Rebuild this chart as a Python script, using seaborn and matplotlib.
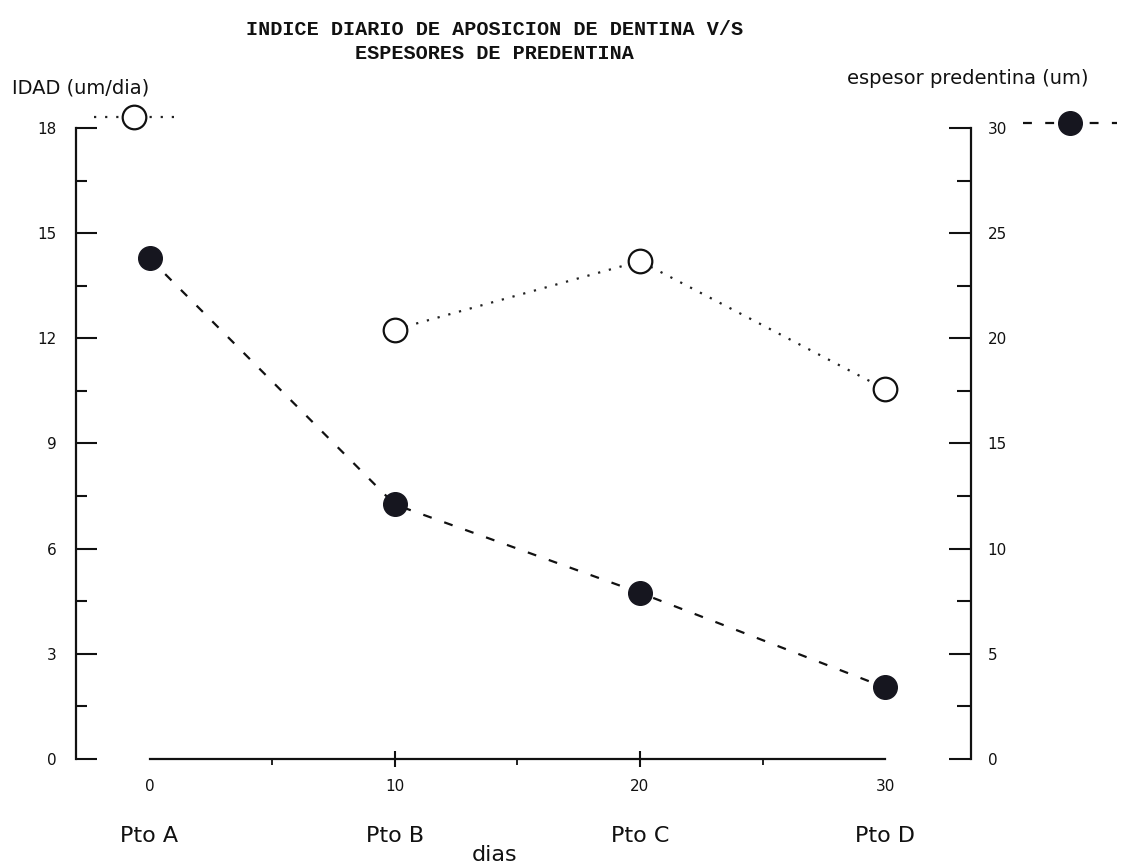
import matplotlib
matplotlib.use("Agg")
import matplotlib.pyplot as plt
from matplotlib.ticker import MultipleLocator
from matplotlib.lines import Line2D
import seaborn as sns

# ---- data ----
dias = [0, 10, 20, 30]
puntos = ["Pto A", "Pto B", "Pto C", "Pto D"]
idad_dias = [10, 20, 30]
idad = [12.25, 14.2, 10.55]
espesor_dias = [0, 10, 20, 30]
espesor = [23.8, 12.1, 7.9, 3.4]
left_ticks = [0, 3, 6, 9, 12, 15, 18]
right_ticks = [0, 5, 10, 15, 20, 25, 30]

title = "INDICE DIARIO DE APOSICION DE DENTINA V/S\nESPESORES DE PREDENTINA"
left_label = "IDAD (um/dia)"
right_label = "espesor predentina (um)"
x_label = "dias"

sns.set_theme(style="white")
plt.rcParams["font.family"] = ["DejaVu Sans"]

INK = "#111111"
DOT = "#222222"
FILL = "#16161f"

fig = plt.figure(figsize=(11.22, 8.67), dpi=100)
ax = fig.add_axes([0.0677, 0.1246, 0.7977, 0.7278])
ax2 = ax.twinx()

dotted = (0, (1, 4))
dashed = (0, (4, 6))

sns.lineplot(x=idad_dias, y=idad, ax=ax, color=DOT, linestyle=dotted, lw=1.6,
             marker="o", markersize=17, markerfacecolor="white",
             markeredgecolor=INK, markeredgewidth=1.6, clip_on=False)
sns.lineplot(x=espesor_dias, y=espesor, ax=ax2, color=INK, linestyle=dashed, lw=1.6,
             marker="o", markersize=17, markerfacecolor=FILL,
             markeredgecolor=FILL, markeredgewidth=1.0, clip_on=False)

ax.set_xlim(-3.0, 33.5)
ax.set_ylim(0, 18)
ax2.set_ylim(0, 30)
ax.set_xlabel("")
ax.set_ylabel("")
ax2.set_ylabel("")

# spines
for s in ["top", "right"]:
    ax.spines[s].set_visible(False)
for s in ["top", "left", "bottom"]:
    ax2.spines[s].set_visible(False)
ax.spines["left"].set_bounds(0, 18)
ax.spines["bottom"].set_bounds(0, 30)
ax2.spines["right"].set_bounds(0, 30)
for sp in [ax.spines["left"], ax.spines["bottom"], ax2.spines["right"]]:
    sp.set_linewidth(1.6)
    sp.set_color(INK)

# x ticks
ax.set_xticks(dias)
ax.set_xticklabels([str(d) for d in dias])
ax.xaxis.set_minor_locator(MultipleLocator(5))
ax.tick_params(axis="x", which="major", bottom=True, direction="inout", length=11,
               width=1.5, color=INK, pad=9, labelsize=11, labelcolor=INK)
ax.tick_params(axis="x", which="minor", bottom=True, direction="out", length=4,
               width=1.3, color=INK)
xt = ax.xaxis.get_major_ticks()
xt[0].tick1line.set_visible(False)
xt[-1].tick1line.set_visible(False)

# left y ticks
ax.set_yticks(left_ticks)
ax.yaxis.set_minor_locator(MultipleLocator(1.5))
ax.tick_params(axis="y", which="major", left=True, direction="in", length=15,
               width=1.5, color=INK, pad=14, labelsize=11, labelcolor=INK)
ax.tick_params(axis="y", which="minor", left=True, direction="in", length=8,
               width=1.5, color=INK)

# right y ticks
ax2.set_yticks(right_ticks)
ax2.yaxis.set_minor_locator(MultipleLocator(2.5))
ax2.tick_params(axis="y", which="major", right=True, direction="in", length=16,
                width=1.5, color=INK, pad=12, labelsize=11, labelcolor=INK)
ax2.tick_params(axis="y", which="minor", right=True, direction="in", length=10,
                width=1.5, color=INK)

# point names below the day numbers
sec = ax.secondary_xaxis(-0.106)
sec.set_xticks(dias)
sec.set_xticklabels(puntos)
sec.tick_params(axis="x", length=0, pad=0, labelsize=16, labelcolor=INK)
for s in sec.spines.values():
    s.set_visible(False)

ax.set_xlabel(x_label, fontsize=16, color=INK, va="center")
ax.xaxis.set_label_coords(0.468, -0.152)

# texts
fig.text(0.441, 1 - 41.5 / 867, title, ha="center", va="center",
         family="Liberation Mono", weight="bold", size=14.5, color=INK, linespacing=1.3)
fig.text(12 / 1122, 1 - 88 / 867, left_label, ha="left", va="center", size=14, color=INK)
fig.text(847 / 1122, 1 - 78 / 867, right_label, ha="left", va="center", size=14, color=INK)

# series keys next to the axis names
h1 = Line2D([], [], color=DOT, linestyle=dotted, lw=1.6, marker="o", markersize=17,
            markerfacecolor="white", markeredgecolor=INK, markeredgewidth=1.6)
h2 = Line2D([], [], color=INK, linestyle=dashed, lw=1.6, marker="o", markersize=17,
            markerfacecolor=FILL, markeredgecolor=FILL, markeredgewidth=1.0)
leg1 = fig.legend([h1], [""], loc="center", bbox_to_anchor=(134 / 1122, 1 - 118 / 867),
                  frameon=False, handlelength=5.8, handletextpad=0, borderpad=0,
                  borderaxespad=0, fontsize=10)
leg2 = fig.legend([h2], [""], loc="center", bbox_to_anchor=(1070 / 1122, 1 - 124 / 867),
                  frameon=False, handlelength=6.7, handletextpad=0, borderpad=0,
                  borderaxespad=0, fontsize=10)

fig.savefig("out.png", dpi=100, facecolor="white")
